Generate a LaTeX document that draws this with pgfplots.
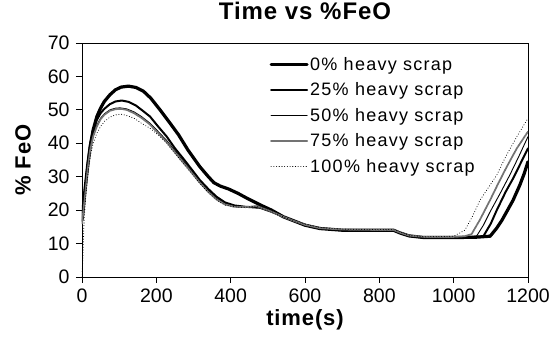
\documentclass[border=0pt]{standalone}
\usepackage{fontspec}
\setmainfont{Liberation Sans}
\newfontfamily\legfont[LetterSpace=7]{Liberation Sans}
\newfontfamily\titfont[LetterSpace=4]{Liberation Sans}
\usepackage{pgfplots}
\pgfplotsset{compat=1.18}
\begin{document}
\begin{tikzpicture}
\begin{axis}[
  name=ax,
  width=446pt, height=234pt, scale only axis,
  xmin=0, xmax=1200, ymin=0, ymax=70,
  xtick={0,200,...,1200}, ytick={0,10,...,70},
  tick align=outside, xtick pos=left, ytick pos=left,
  major tick length=6pt,
  tick style={black, line width=0.8pt},
  axis line style={line width=0.8pt},
  /pgf/number format/assume math mode=true,
  /pgf/number format/1000 sep={},
  ticklabel style={font=\fontsize{19.5}{22}\selectfont},
  xticklabel style={yshift=-2pt},
  yticklabel style={xshift=-3pt},
  title={Time vs \%FeO},
  title style={font=\titfont\fontsize{24}{28}\selectfont\bfseries, at={(axis description cs:0.5,1)}, anchor=center, yshift=26pt},
  xlabel={time(s)},
  xlabel style={font=\titfont\fontsize{22}{26}\selectfont\bfseries, at={(axis description cs:0.5,0)}, anchor=center, yshift=-43pt},
  ylabel={\% FeO},
  ylabel style={font=\titfont\fontsize{22}{26}\selectfont\bfseries, at={(axis description cs:0,0.5)}, anchor=center, yshift=59pt},
  legend cell align=left,
  legend style={draw=none, fill=none, at={(axis description cs:0.42,0.947)}, anchor=north west,
    font=\legfont\fontsize{18}{21}\selectfont, row sep=8pt, inner sep=0pt,
    nodes={inner sep=1.5pt}},
  legend image code/.code={\draw[#1] (0pt,0pt) -- (36pt,0pt);},
  every axis plot/.append style={line join=round, line cap=round},
]
% 0%
\addplot[black, line width=3.2pt] coordinates {
(0,17) (3,20) (8,26) (15,33) (22,39) (30,44) (40,48) (50,50.5) (60,52.5) (75,54.5) (90,56) (105,56.8) (125,57.1) (145,56.7) (165,55.6) (185,53.5) (210,50) (237,46) (260,42.5) (285,38) (317,33) (340,30) (355,28.2) (372,27.2) (395,26.3) (420,25) (445,23.5) (479,21.6) (510,20) (542,18) (570,16.8) (600,15.5) (640,14.5) (700,14) (780,14) (838,14) (855,13.2) (880,12.3) (920,11.8) (1000,11.8) (1060,11.9) (1098,12.2) (1115,14.5) (1130,17) (1145,20) (1160,23) (1178,27.5) (1190,31) (1200,34.5)
};
\addlegendentry{0\% heavy scrap}
% 25%
\addplot[black, line width=2pt] coordinates {
(0,17) (3,20) (8,26) (15,34) (22,40) (30,44) (40,47) (50,49) (60,50.3) (75,51.7) (90,52.5) (107,52.8) (125,52.4) (145,51.3) (165,49.6) (183,48) (205,45) (228,42) (250,38.5) (272,35.5) (295,32.2) (317,29) (340,26.3) (362,24) (385,22.3) (410,21.4) (440,21) (479,20.7) (510,19.5) (542,18) (570,16.8) (600,15.5) (640,14.5) (700,14) (780,14) (838,14) (855,13.2) (880,12.3) (920,11.8) (1000,11.8) (1050,11.9) (1080,12.2) (1100,16) (1116,20) (1140,25.5) (1160,29.5) (1180,34) (1200,38.5)
};
\addlegendentry{25\% heavy scrap}
% 50%
\addplot[black, line width=0.9pt] coordinates {
(0,16) (3,19) (8,25) (15,33) (22,39) (30,42.5) (40,45.5) (50,47.5) (60,48.8) (75,50) (90,50.5) (102,50.6) (120,50.3) (140,49.4) (160,48) (183,46) (205,43.5) (228,40.8) (250,37.8) (272,34.8) (295,31.6) (317,28.6) (340,25.8) (362,23.5) (385,22) (410,21.2) (440,21) (479,20.7) (510,19.5) (542,18) (570,16.8) (600,15.5) (640,14.5) (700,14) (780,14) (838,14) (855,13.2) (880,12.3) (920,11.9) (1000,11.9) (1040,12) (1062,12.3) (1080,15.5) (1098,19.5) (1125,25) (1151,30.5) (1175,36) (1200,42)
};
\addlegendentry{50\% heavy scrap}
% 75%
\addplot[black!55, line width=1.8pt, dash pattern=on 1pt off 0.6pt] coordinates {
(0,16) (3,19) (8,24) (15,32) (22,38) (30,42) (40,45) (50,47.2) (60,48.5) (75,49.7) (90,50.2) (105,50.3) (120,50) (140,49) (160,47.6) (183,45.6) (205,43) (228,40.3) (250,37.3) (272,34.3) (295,31.2) (317,28.2) (340,25.4) (362,23.2) (385,21.7) (410,21) (440,20.9) (470,21.2) (500,20) (542,18) (570,16.8) (600,15.6) (640,14.6) (700,14.2) (780,14.1) (838,14.1) (855,13.3) (880,12.4) (920,12) (1000,12) (1030,12.2) (1048,12.8) (1070,17) (1098,23) (1120,28) (1143,33) (1170,38.5) (1200,43.5)
};
\addlegendentry{75\% heavy scrap}
% 100%
\addplot[black, line width=1pt, dash pattern=on 0.1pt off 2.6pt] coordinates {
(0,0) (2,5) (4,12) (6,18) (10,24) (15,30) (22,36) (30,40) (40,43) (50,45) (60,46.5) (75,47.8) (90,48.5) (105,48.7) (120,48.3) (140,47.5) (160,46) (183,44.5) (205,42.5) (228,40) (250,37) (272,34) (295,31) (317,28) (340,25.3) (362,23) (385,21.5) (410,21) (440,20.8) (470,21.3) (500,20) (542,18) (586,16.2) (640,14.8) (700,14.3) (780,14.2) (838,14.2) (855,13.5) (880,12.5) (920,12) (1000,12.2) (1030,14) (1050,18) (1071,23) (1095,27) (1116,30.5) (1140,36) (1170,42) (1200,47.5)
};
\addlegendentry{100\% heavy scrap}
\end{axis}
\pgfresetboundingbox
\path ([shift={(-82pt,-72pt)}]ax.south west) rectangle ([shift={(25pt,43pt)}]ax.north east);
\end{tikzpicture}
\end{document}
